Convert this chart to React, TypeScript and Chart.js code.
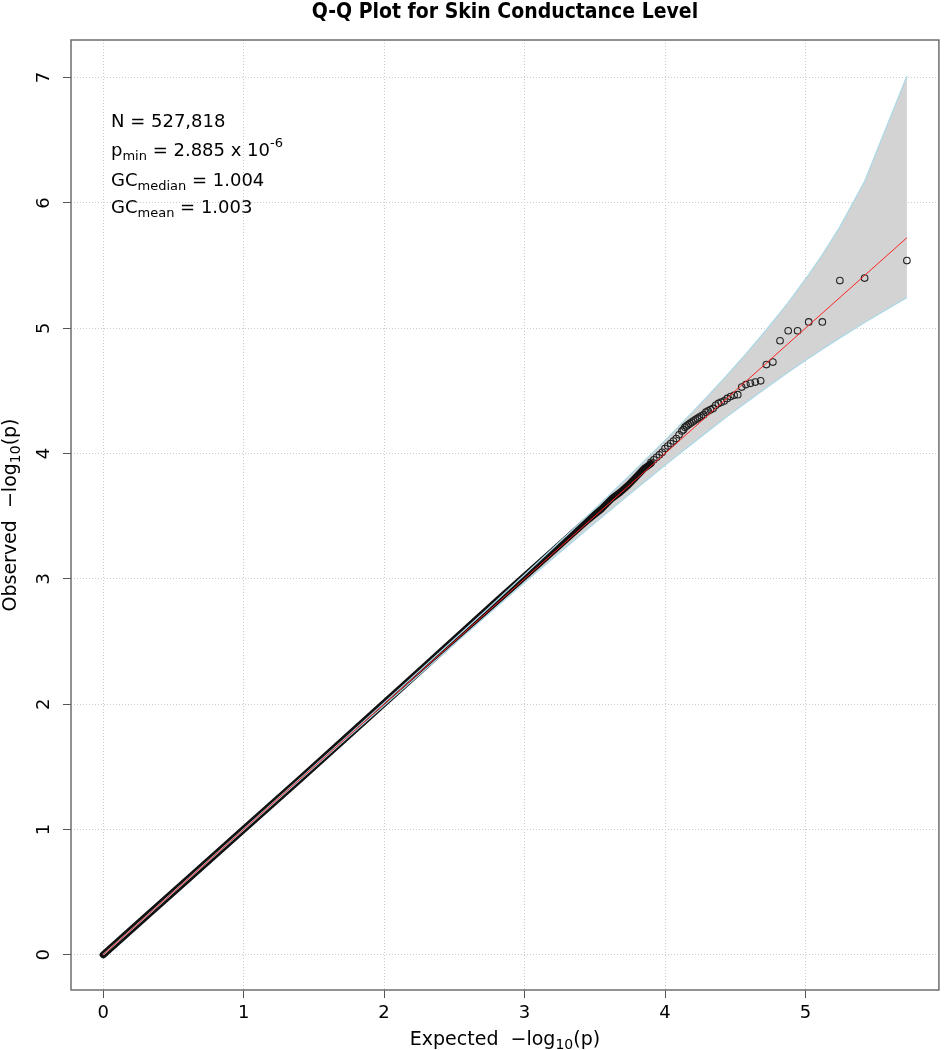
import React, { useEffect, useRef } from "react";
import { Chart, registerables } from "chart.js";

Chart.register(...registerables);

// ---- Data ----
const titleText = "Q-Q Plot for Skin Conductance Level";

const xTickValues = [0, 1, 2, 3, 4, 5];
const yTickValues = [0, 1, 2, 3, 4, 5, 6, 7];

// confidence band (expected, upper, lower)
const ciExpected = [0, 0.245, 0.7225, 1.7225, 2.7225, 3.023, 3.421, 3.7225, 4.024, 4.245, 4.421, 4.546, 4.722, 4.877, 5.023, 5.12, 5.245, 5.421, 5.7225];
const ciUpper = [0, 0.246, 0.724, 1.729, 2.745, 3.056, 3.474, 3.797, 4.131, 4.388, 4.6, 4.756, 4.988, 5.205, 5.427, 5.586, 5.809, 6.171, 7.012];
const ciLower = [0, 0.244, 0.72, 1.715, 2.7, 2.992, 3.372, 3.654, 3.928, 4.125, 4.277, 4.382, 4.526, 4.649, 4.76, 4.832, 4.923, 5.046, 5.246];

// dense part of the observed points (overlapping circles form a thick band)
const denseExpected = [0, 0.3, 0.6, 1.0, 1.4, 1.8, 2.2, 2.5, 2.8, 3.0, 3.2, 3.35, 3.45, 3.55, 3.62, 3.68, 3.74, 3.8, 3.85, 3.9];
const denseObserved = [0, 0.3, 0.6, 1.0, 1.4, 1.805, 2.21, 2.515, 2.82, 3.02, 3.22, 3.37, 3.47, 3.56, 3.64, 3.69, 3.75, 3.82, 3.88, 3.92];

// sparse tail: individual circles
const tailExpected = [5.722, 5.421, 5.245, 5.12, 5.023, 4.944, 4.877, 4.819, 4.768, 4.722, 4.681, 4.643, 4.608, 4.576, 4.546, 4.518, 4.492, 4.467, 4.443, 4.421, 4.4, 4.38, 4.361, 4.342, 4.324, 4.307, 4.291, 4.275, 4.26, 4.245, 4.231, 4.217, 4.204, 4.191, 4.178, 4.166, 4.154, 4.142, 4.131, 4.12, 4.1, 4.08, 4.06, 4.04, 4.02, 4.0, 3.98, 3.96, 3.94, 3.92, 3.9];
const tailObserved = [5.54, 5.4, 5.38, 5.05, 5.05, 4.98, 4.98, 4.9, 4.73, 4.71, 4.58, 4.57, 4.56, 4.55, 4.53, 4.47, 4.465, 4.455, 4.44, 4.42, 4.41, 4.4, 4.385, 4.36, 4.35, 4.34, 4.33, 4.31, 4.3, 4.29, 4.28, 4.27, 4.26, 4.25, 4.24, 4.23, 4.22, 4.21, 4.19, 4.18, 4.15, 4.12, 4.1, 4.08, 4.06, 4.04, 4.01, 3.99, 3.97, 3.95, 3.93];

// reference line y = x
const diagExpected = [0, 5.7225];
const diagObserved = [0, 5.7225];

const statN = "527,818";
const statPmin = "2.885";
const statPminExp = "-6";
const statGCmedian = "1.004";
const statGCmean = "1.003";

// ---- helpers ----
const zip = (xs: number[], ys: number[]) => xs.map((x, i) => ({ x, y: ys[i] }));

type Seg = { t: string; size: number; dy: number };
const FONT = '"DejaVu Sans", sans-serif';

function segWidth(ctx: CanvasRenderingContext2D, segs: Seg[]) {
  let w = 0;
  for (const s of segs) {
    ctx.font = `${s.size}px ${FONT}`;
    w += ctx.measureText(s.t).width;
  }
  return w;
}
function drawSegs(ctx: CanvasRenderingContext2D, segs: Seg[], x: number, y: number) {
  let cx = x;
  for (const s of segs) {
    ctx.font = `${s.size}px ${FONT}`;
    ctx.fillText(s.t, cx, y + s.dy);
    cx += ctx.measureText(s.t).width;
  }
}

const textPlugin = {
  id: "qqText",
  afterDraw(chart: any) {
    const { ctx, chartArea: a } = chart;
    ctx.save();
    // box
    ctx.strokeStyle = "#6e6e6e";
    ctx.lineWidth = 1.5;
    ctx.strokeRect(a.left, a.top, a.right - a.left, a.bottom - a.top);

    ctx.fillStyle = "#000";
    ctx.textBaseline = "alphabetic";
    ctx.textAlign = "left";

    // title
    ctx.font = `bold 21px "DejaVu Sans Condensed", "DejaVu Sans", sans-serif`;
    try { (ctx as any).fontStretch = "condensed"; } catch (e) {}
    ctx.textAlign = "center";
    ctx.fillText(titleText, (a.left + a.right) / 2, 18);
    try { (ctx as any).fontStretch = "normal"; } catch (e) {}
    ctx.textAlign = "left";

    const main = 18;
    const sub = 13;
    const ax = 19;
    const axSub = 14;
    // x axis title
    const xs: Seg[] = [
      { t: "Expected  \u2212log", size: ax, dy: 0 },
      { t: "10", size: axSub, dy: 4 },
      { t: "(p)", size: ax, dy: 0 },
    ];
    const xw = segWidth(ctx, xs);
    drawSegs(ctx, xs, (a.left + a.right) / 2 - xw / 2, 1045);

    // y axis title
    const ys: Seg[] = [
      { t: "Observed  \u2212log", size: ax, dy: 0 },
      { t: "10", size: axSub, dy: 4 },
      { t: "(p)", size: ax, dy: 0 },
    ];
    const yw = segWidth(ctx, ys);
    ctx.save();
    ctx.translate(16, (a.top + a.bottom) / 2);
    ctx.rotate(-Math.PI / 2);
    drawSegs(ctx, ys, -yw / 2, 0);
    ctx.restore();

    // statistics
    const lx = 111;
    drawSegs(ctx, [{ t: `N = ${statN}`, size: main, dy: 0 }], lx, 127);
    drawSegs(ctx, [
      { t: "p", size: main, dy: 0 },
      { t: "min", size: sub, dy: 4 },
      { t: ` = ${statPmin} x 10`, size: main, dy: 0 },
      { t: statPminExp, size: sub, dy: -9 },
    ], lx, 156);
    drawSegs(ctx, [
      { t: "GC", size: main, dy: 0 },
      { t: "median", size: sub, dy: 4 },
      { t: ` = ${statGCmedian}`, size: main, dy: 0 },
    ], lx, 186);
    drawSegs(ctx, [
      { t: "GC", size: main, dy: 0 },
      { t: "mean", size: sub, dy: 4 },
      { t: ` = ${statGCmean}`, size: main, dy: 0 },
    ], lx, 213);

    ctx.restore();
  },
};

export default function App() {
  const ref = useRef<HTMLCanvasElement | null>(null);

  useEffect(() => {
    if (!ref.current) return;
    const tickFont = { family: FONT, size: 18 };
    const grid = {
      color: "#cccccc",
      lineWidth: 1,
      tickColor: "#555555",
      tickLength: 8,
      tickWidth: 1,
      tickBorderDash: [],
    };
    const chart = new Chart(ref.current, {
      type: "line",
      data: {
        datasets: [
          {
            label: "y = x",
            data: zip(diagExpected, diagObserved),
            borderColor: "#ff2020",
            borderWidth: 1,
            pointRadius: 0,
            fill: false,
            order: 0,
          },
          {
            label: "upper",
            data: zip(ciExpected, ciUpper),
            borderColor: "#add8e6",
            borderWidth: 1.3,
            backgroundColor: "#d3d3d3",
            pointRadius: 0,
            fill: 2,
            order: 1,
          },
          {
            label: "lower",
            data: zip(ciExpected, ciLower),
            borderColor: "#add8e6",
            borderWidth: 1.3,
            pointRadius: 0,
            fill: false,
            order: 1,
          },
          {
            label: "dense",
            data: zip(denseExpected, denseObserved),
            borderColor: "#111111",
            borderWidth: 7,
            borderCapStyle: "round",
            borderJoinStyle: "round",
            pointRadius: 0,
            fill: false,
            order: 2,
          },
          {
            label: "tail",
            data: zip(tailExpected, tailObserved),
            showLine: false,
            pointStyle: "circle",
            pointRadius: 3.3,
            pointBorderWidth: 1.1,
            pointBorderColor: "#222222",
            pointBackgroundColor: "rgba(0,0,0,0)",
            fill: false,
            order: 2,
          },
        ],
      } as any,
      options: {
        animation: false,
        responsive: false,
        devicePixelRatio: 1,
        layout: { padding: { left: 0, top: 40, right: 2, bottom: 0 } },
        plugins: {
          legend: { display: false },
          tooltip: { enabled: false },
          title: { display: false },
          filler: { drawTime: "beforeDatasetsDraw" },
        },
        scales: {
          x: {
            type: "linear",
            min: -0.229,
            max: 5.95,
            afterFit: (s: any) => { s.height = 60; },
            afterBuildTicks: (s: any) => { s.ticks = xTickValues.map((v) => ({ value: v })); },
            ticks: { font: tickFont, color: "#000", padding: 5, maxRotation: 0, autoSkip: false },
            grid,
            border: { display: false, dash: [1, 2] },
          },
          y: {
            type: "linear",
            min: -0.281,
            max: 7.3,
            afterFit: (s: any) => { s.width = 71; },
            afterBuildTicks: (s: any) => { s.ticks = yTickValues.map((v) => ({ value: v })); },
            ticks: { font: tickFont, color: "#000", padding: 13, minRotation: 90, maxRotation: 90, crossAlign: "center", autoSkip: false },
            grid,
            border: { display: false, dash: [1, 2] },
          },
        },
      } as any,
      plugins: [textPlugin],
    });
    return () => chart.destroy();
  }, []);

  return (
    <canvas
      ref={ref}
      width={944}
      height={1050}
      style={{ position: "absolute", left: 0, top: 0, width: "944px", height: "1050px" }}
    />
  );
}
